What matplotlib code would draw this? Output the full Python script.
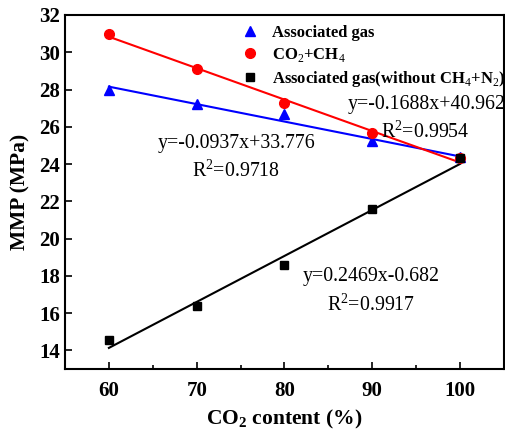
import numpy as np
import matplotlib
matplotlib.use("Agg")
import matplotlib.pyplot as plt
from matplotlib.ticker import MultipleLocator

plt.rcParams['font.family'] = ['Liberation Serif', 'DejaVu Serif']
plt.rcParams['mathtext.fontset'] = 'custom'
plt.rcParams['mathtext.rm'] = 'Liberation Serif'
plt.rcParams['mathtext.bf'] = 'Liberation Serif:bold'

co2 = [60, 70, 80, 90, 100]
assoc = [28.0, 27.25, 26.7, 25.25, 24.4]
co2_ch4 = [31.0, 29.1, 27.3, 25.65, 24.3]
assoc_wo = [14.55, 16.4, 18.6, 21.6, 24.3]

fit_assoc = (-0.0937, 33.776, 0.9718)
fit_co2_ch4 = (-0.1688, 40.962, 0.9954)
fit_assoc_wo = (0.2469, -0.682, 0.9917)

fig = plt.figure(figsize=(5.05, 4.34), dpi=100)
ax = fig.add_axes([65/505, 1-369/434, 439/505, (369-15)/434])

x = np.array(co2, dtype=float)
for (m, b, r2), c in [(fit_assoc, 'blue'), (fit_co2_ch4, 'red'), (fit_assoc_wo, 'black')]:
    ax.plot(x, m*x + b, color=c, lw=1.5, zorder=2)

ax.plot(co2, assoc, '^', color='blue', ms=7, ls='none', label='Associated gas', zorder=3)
ax.plot(co2, co2_ch4, 'o', color='red', ms=7, ls='none', label=r'CO$_2$+CH$_4$', zorder=3)
ax.plot(co2, assoc_wo, 's', color='black', ms=6, ls='none',
        label=r'Associated gas(without CH$_4$+N$_2$)', zorder=3)

ax.set_xlim(55, 105)
ax.set_ylim(13, 32)
ax.xaxis.set_major_locator(MultipleLocator(10))
ax.xaxis.set_minor_locator(MultipleLocator(5))
ax.yaxis.set_major_locator(MultipleLocator(2))
ax.tick_params(which='both', direction='in', top=False, right=False)
ax.tick_params(which='major', length=5, width=1.2, labelsize=15)
ax.tick_params(axis='x', which='major', pad=9)
ax.tick_params(which='minor', length=3, width=1.2)
for s in ax.spines.values():
    s.set_linewidth(1.5)
for lab in ax.get_xticklabels() + ax.get_yticklabels():
    lab.set_fontweight('bold')

ax.set_xlabel(r'CO$_\mathbf{2}$ content (%)', fontsize=15.5, fontweight='bold', labelpad=5)
ax.set_ylabel('MMP (MPa)', fontsize=15.5, fontweight='bold', labelpad=6)

leg = ax.legend(loc='upper left', bbox_to_anchor=(0.375, 1.0), frameon=False,
                prop={'weight': 'bold', 'size': 12}, handletextpad=0.75,
                labelspacing=0.3, handlelength=1.2, borderaxespad=0.2)

def eq(m, b):
    sign = '+' if b >= 0 else '-'
    return f'y={m:.4f}x{sign}{abs(b):.3f}'

tkw = dict(fontsize=14.3, ha='center', va='center')
ax.text(96.2, 27.2, eq(*fit_co2_ch4[:2]), **tkw)
ax.text(96.0, 25.75, f'R$^2$={fit_co2_ch4[2]:.4f}', **tkw)
ax.text(74.5, 25.1, eq(*fit_assoc[:2]), **tkw)
ax.text(74.5, 23.65, f'R$^2$={fit_assoc[2]:.4f}', **tkw)
ax.text(89.85, 17.95, eq(*fit_assoc_wo[:2]), **tkw)
ax.text(89.85, 16.45, f'R$^2$={fit_assoc_wo[2]:.4f}', **tkw)

fig.savefig('out.png', dpi=100)
